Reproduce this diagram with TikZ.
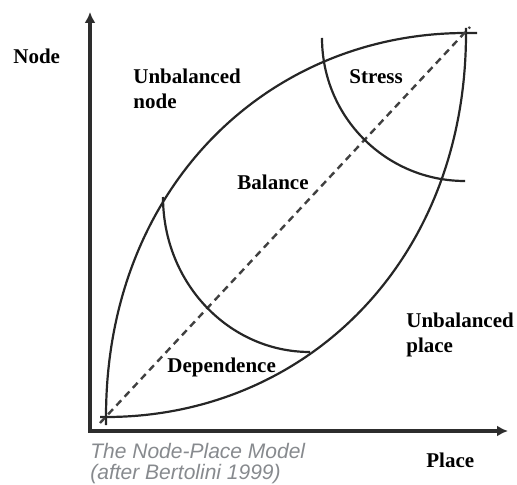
\documentclass[tikz,border=0pt]{standalone}
\usepackage{fontspec}
\setmainfont{Liberation Serif}
\newfontfamily\capfont{Liberation Sans}
\usetikzlibrary{arrows.meta}
\definecolor{axisgray}{RGB}{45,45,45}
\definecolor{captiongray}{RGB}{135,138,142}
\tikzset{axis/.style={{Latex[length=5.5pt,width=5.5pt]}-{Latex[length=5.5pt,width=5.5pt]},line width=1.6pt,axisgray},
 zone/.style={line width=1.1pt,black!85},
 diag/.style={dash pattern=on 3.5pt off 2.5pt,line width=1.2pt,black!75},
 every node/.style={inner sep=0pt},
 region/.style={font=\fontsize{10.5pt}{12.5pt}\selectfont\bfseries,align=left},
 caption/.style={font=\fontsize{10.5pt}{10.5pt}\selectfont\capfont\itshape,text=captiongray,align=left}}

\begin{document}
\begin{tikzpicture}[x=0.5pt,y=-0.5pt]
\useasboundingbox (0,0) rectangle (517,485);
\coordinate (ytip) at (90,12);
\coordinate (xtip) at (508,431);
\coordinate (A) at (106,417);
\coordinate (B) at (466,33);
\coordinate (D1) at (100,423);
\coordinate (D2) at (470,27);
% axes
\draw[axis] (ytip) |- (xtip);
% lens
\draw[zone] (106,425) -- (A) .. controls (106,187) and (268,33) .. (B) -- (477,33);
\draw[zone] (100,417) -- (A) .. controls (304,417) and (466,263) .. (B) -- (466,28);
\draw[diag] (D1) -- (D2);
% boundaries
\draw[zone] (163,197) .. controls (163,283) and (229,352) .. (310,352);
\draw[zone] (322,38) .. controls (322,117) and (386,181) .. (465,181);
% labels
\node[region,anchor=base west] (nodeax) at (13,64) {Node};
\node[region,anchor=north west] (unnode) at (133,69) {Unbalanced\\node};
\node[region,anchor=base west] (stress) at (349,84) {Stress};
\node[region,anchor=base west] (balance) at (237,190) {Balance};
\node[region,anchor=base west] (depend) at (167,372) {Dependence};
\node[region,anchor=north west] (unplace) at (406,313) {Unbalanced\\place};
\node[region,anchor=base west] (placeax) at (426,467) {Place};
\node[caption,anchor=north west] (cap) at (90,443) {The Node-Place Model\\(after Bertolini 1999)};
\end{tikzpicture}
\end{document}
